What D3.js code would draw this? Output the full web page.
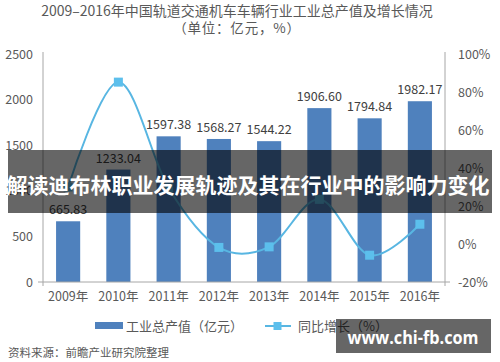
<!DOCTYPE html>
<html><head><meta charset="utf-8">
<script src="https://cdn.jsdelivr.net/npm/d3@7"></script>
<style>
html,body{margin:0;padding:0;background:#fff;}
svg{display:block;font-family:"Noto Sans CJK SC","Noto Sans",sans-serif;}
</style></head>
<body><svg id="c" width="500" height="362"></svg>
<script>
const years = ["2009年","2010年","2011年","2012年","2013年","2014年","2015年","2016年"];
const output = [665.83,1233.04,1597.38,1568.27,1544.22,1906.60,1794.84,1982.17];
const growth = [30.0,85.2,29.5,-1.8,-1.5,23.5,-5.9,10.4];
const leftTicks = [0,500,1000,1500,2000,2500];
const rightTicks = [-20,0,20,40,60,80,100];
const title1 = "2009–2016年中国轨道交通机车车辆行业工业总产值及增长情况";
const title2 = "（单位：亿元，%）";
const legendLabels = ["工业总产值（亿元）","同比增长（%）"];
const source = "资料来源：前瞻产业研究院整理";
const bannerText = "解读迪布林职业发展轨迹及其在行业中的影响力变化";
const watermark = "www.chi-fb.com";

const svg = d3.select("#c");
const barColor = "#4f81bd", lineColor = "#58b6e2", markColor = "#5cbfec";
const axisColor = "#a6a6a6", textColor = "#595959";

const x = d3.scaleBand().domain(years).range([43,445]).paddingInner(0.52).paddingOuter(0.26);
const yL = d3.scaleLinear().domain([0,2500]).range([282,54]);
const yR = d3.scaleLinear().domain([-20,100]).range([282,54]);

// titles
svg.append("text").attr("x",237).attr("y",16).attr("text-anchor","middle")
  .attr("font-size",14).attr("fill",textColor).text(title1);
svg.append("text").attr("x",237).attr("y",33).attr("text-anchor","middle")
  .attr("font-size",13.5).attr("fill",textColor).attr("letter-spacing",0.8).text(title2);

// bars
svg.selectAll("rect.bar").data(output).join("rect").attr("class","bar")
  .attr("x",(d,i)=>x(years[i])).attr("width",x.bandwidth())
  .attr("y",d=>yL(d)).attr("height",d=>yL(0)-yL(d)).attr("fill",barColor);
svg.selectAll("text.bl").data(output).join("text").attr("class","bl")
  .attr("x",(d,i)=>x(years[i])+x.bandwidth()/2).attr("y",d=>yL(d)-7)
  .attr("text-anchor","middle").attr("font-size",12.5).attr("fill","#404040")
  .text(d=>d.toFixed(2));

// axes
const gL = svg.append("g").attr("transform","translate(43,0)")
  .call(d3.axisLeft(yL).tickValues(leftTicks).tickSize(0).tickPadding(10).tickFormat(d3.format("d")));
const gR = svg.append("g").attr("transform","translate(445,0)")
  .call(d3.axisRight(yR).tickValues(rightTicks).tickSize(0).tickPadding(13).tickFormat(d=>d+"%"));
const gB = svg.append("g").attr("transform","translate(0,282)")
  .call(d3.axisBottom(x).tickSize(0).tickPadding(10));
[gL,gR,gB].forEach(g=>{
  g.select(".domain").remove();
  g.selectAll("text").attr("font-size",12.5).attr("fill",textColor)
   .attr("font-family","'Noto Sans CJK SC','Noto Sans',sans-serif");
});
svg.append("line").attr("x1",43).attr("x2",43).attr("y1",52).attr("y2",286).attr("stroke",axisColor);
svg.append("line").attr("x1",445).attr("x2",445).attr("y1",52).attr("y2",286).attr("stroke",axisColor);
svg.append("line").attr("x1",38).attr("x2",450).attr("y1",282).attr("y2",282).attr("stroke",axisColor);

// growth line
const line = d3.line().x((d,i)=>x(years[i])+x.bandwidth()/2).y(d=>yR(d)).curve(d3.curveCardinal.tension(0));
svg.append("path").datum(growth).attr("d",line).attr("fill","none")
  .attr("stroke",lineColor).attr("stroke-width",2);
svg.selectAll("rect.mk").data(growth).join("rect").attr("class","mk")
  .attr("x",(d,i)=>x(years[i])+x.bandwidth()/2-4.5).attr("y",d=>yR(d)-4.5)
  .attr("width",9).attr("height",9).attr("fill",markColor);

// legend
svg.append("rect").attr("x",95).attr("y",322).attr("width",28).attr("height",7).attr("fill",barColor);
svg.append("text").attr("x",126).attr("y",330.5).attr("font-size",13).attr("fill",textColor).text(legendLabels[0]);
svg.append("line").attr("x1",265).attr("x2",291).attr("y1",326).attr("y2",326).attr("stroke",lineColor).attr("stroke-width",2);
svg.append("rect").attr("x",273.5).attr("y",322).attr("width",8).attr("height",8).attr("fill",markColor);
svg.append("text").attr("x",298).attr("y",330.5).attr("font-size",13).attr("fill",textColor).text(legendLabels[1]);

// source
svg.append("text").attr("x",8).attr("y",357).attr("font-size",11.5).attr("fill",textColor).text(source);

// overlay banner
svg.append("rect").attr("x",8).attr("y",150).attr("width",484).attr("height",63).attr("fill","rgba(0,0,0,0.6)");
svg.append("text").attr("x",248).attr("y",184).attr("text-anchor","middle").attr("dominant-baseline","central")
  .attr("font-size",21).attr("font-weight","bold").attr("fill","#fff").text(bannerText);

// watermark
svg.append("rect").attr("x",336).attr("y",319).attr("width",155).attr("height",34).attr("fill","rgba(0,0,0,0.6)");
svg.append("text").attr("x",413).attr("y",337).attr("text-anchor","middle").attr("dominant-baseline","central")
  .attr("font-size",17).attr("font-weight","bold").attr("font-family","'Open Sans','Noto Sans',sans-serif")
  .attr("textLength",131).attr("lengthAdjust","spacingAndGlyphs")
  .attr("fill","#fff").text(watermark);
</script></body></html>
